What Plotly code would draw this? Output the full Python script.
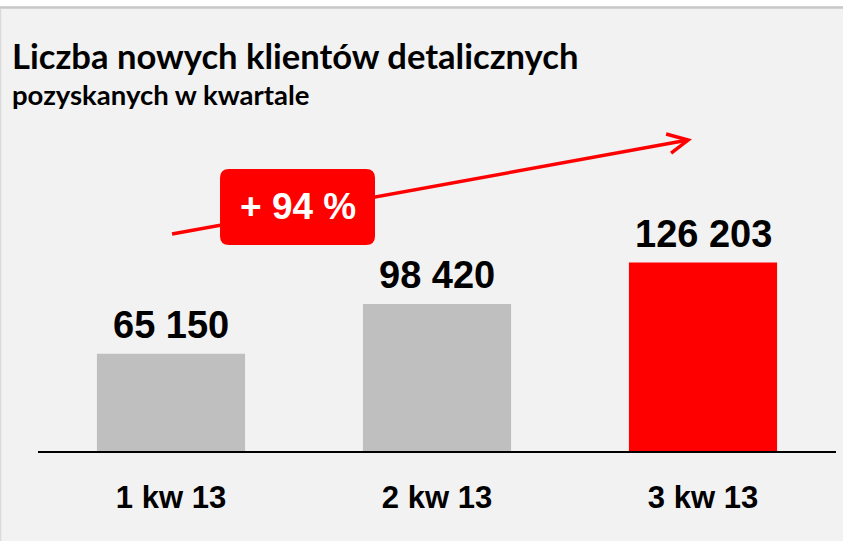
import plotly.graph_objects as go

categories = ["1 kw 13", "2 kw 13", "3 kw 13"]
values = [65150, 98420, 126203]
bar_colors = ["#bfbfbf", "#bfbfbf", "#ff0000"]
title_text = "Liczba nowych klientów detalicznych"
subtitle_text = "pozyskanych w kwartale"
growth_label = "+ 94 %"

W, H = 843, 541
ML, MR, MT, MB = 38, 7, 100, 90
YMAX = 235000
NUM_FONT = "Liberation Sans, Arial"

fig = go.Figure()
fig.add_trace(go.Bar(
    x=categories, y=values,
    marker=dict(color=bar_colors, line=dict(width=0)),
    width=0.557, hoverinfo="skip",
))

shapes = []
# top white band + grey border line, left border
shapes.append(dict(type="rect", xref="paper", yref="paper", xsizemode="pixel", ysizemode="pixel",
                   xanchor=0, yanchor=1, x0=-ML, x1=W - ML, y0=MT - 6, y1=MT + 2,
                   fillcolor="#ffffff", line=dict(width=0), layer="below"))
shapes.append(dict(type="line", xref="paper", yref="paper", xsizemode="pixel", ysizemode="pixel",
                   xanchor=0, yanchor=1, x0=-ML, x1=W - ML, y0=MT - 7.5, y1=MT - 7.5,
                   line=dict(color="#c8c8c8", width=2.5), layer="below"))
shapes.append(dict(type="line", xref="paper", yref="paper", xsizemode="pixel", ysizemode="pixel",
                   xanchor=0, yanchor=1, x0=-ML + 0.5, x1=-ML + 0.5, y0=MT - 9, y1=-(H - MT),
                   line=dict(color="#dadada", width=1.5), layer="below"))
# growth arrow
ax0, ay0, ax1, ay1 = 0.004, 145300, 1.944, 208200
shapes.append(dict(type="line", xref="x", yref="y", x0=ax0, y0=ay0, x1=ax1, y1=ay1,
                   line=dict(color="#ff0000", width=3.5)))
shapes.append(dict(type="path", xref="x", yref="y", xsizemode="pixel", ysizemode="pixel",
                   xanchor=ax1, yanchor=ay1, path="M -22,6 L 0,0 L -17,-13",
                   line=dict(color="#ff0000", width=3.5)))
# rounded label box
bx, by = 0.3252, 0.6952
hw, hh, r = 77.5, 38, 9
box_path = (f"M {-hw + r},{hh} L {hw - r},{hh} Q {hw},{hh} {hw},{hh - r} "
            f"L {hw},{-hh + r} Q {hw},{-hh} {hw - r},{-hh} "
            f"L {-hw + r},{-hh} Q {-hw},{-hh} {-hw},{-hh + r} "
            f"L {-hw},{hh - r} Q {-hw},{hh} {-hw + r},{hh} Z")
shapes.append(dict(type="path", xref="paper", yref="paper", xsizemode="pixel", ysizemode="pixel",
                   xanchor=bx, yanchor=by, path=box_path, fillcolor="#ff0000",
                   line=dict(width=0)))

annotations = [
    dict(text=growth_label, xref="paper", yref="paper", x=bx, y=by, showarrow=False,
         xanchor="center", yanchor="middle",
         font=dict(family=NUM_FONT, size=37, color="#ffffff", weight="bold")),
    dict(text=title_text, xref="paper", yref="paper", x=(10 - ML) / (W - ML - MR), y=(451 - 55) / 351,
         showarrow=False, xanchor="left", yanchor="middle",
         font=dict(family="Lato", size=34.6, color="#000000", weight="bold")),
    dict(text=subtitle_text, xref="paper", yref="paper", x=(10 - ML) / (W - ML - MR), y=(451 - 95) / 351,
         showarrow=False, xanchor="left", yanchor="middle",
         font=dict(family="Lato", size=27.5, color="#000000", weight="bold")),
]
# value labels above bars
for c, v in zip(categories, values):
    annotations.append(dict(
        text=f"{v:,}".replace(",", " "), x=c, y=v, xref="x", yref="y",
        showarrow=False, xanchor="center", yanchor="bottom", yshift=6,
        font=dict(family=NUM_FONT, size=38, color="#000000", weight="bold")))

fig.update_layout(
    width=W, height=H,
    margin=dict(l=ML, r=MR, t=MT, b=MB, pad=0),
    paper_bgcolor="#f2f2f2", plot_bgcolor="#f2f2f2",
    showlegend=False,
    shapes=shapes, annotations=annotations,
    xaxis=dict(showline=True, linecolor="#000000", linewidth=2, showgrid=False, zeroline=False,
               ticks="outside", ticklen=18, tickcolor="rgba(0,0,0,0)",
               tickfont=dict(family=NUM_FONT, size=31, color="#000000", weight="bold"),
               range=[-0.5, 2.5]),
    yaxis=dict(visible=False, range=[0, YMAX]),
)

fig.write_html("out.html", config={"displayModeBar": False},
               post_script="document.body.style.margin='0';document.body.style.padding='0';")
